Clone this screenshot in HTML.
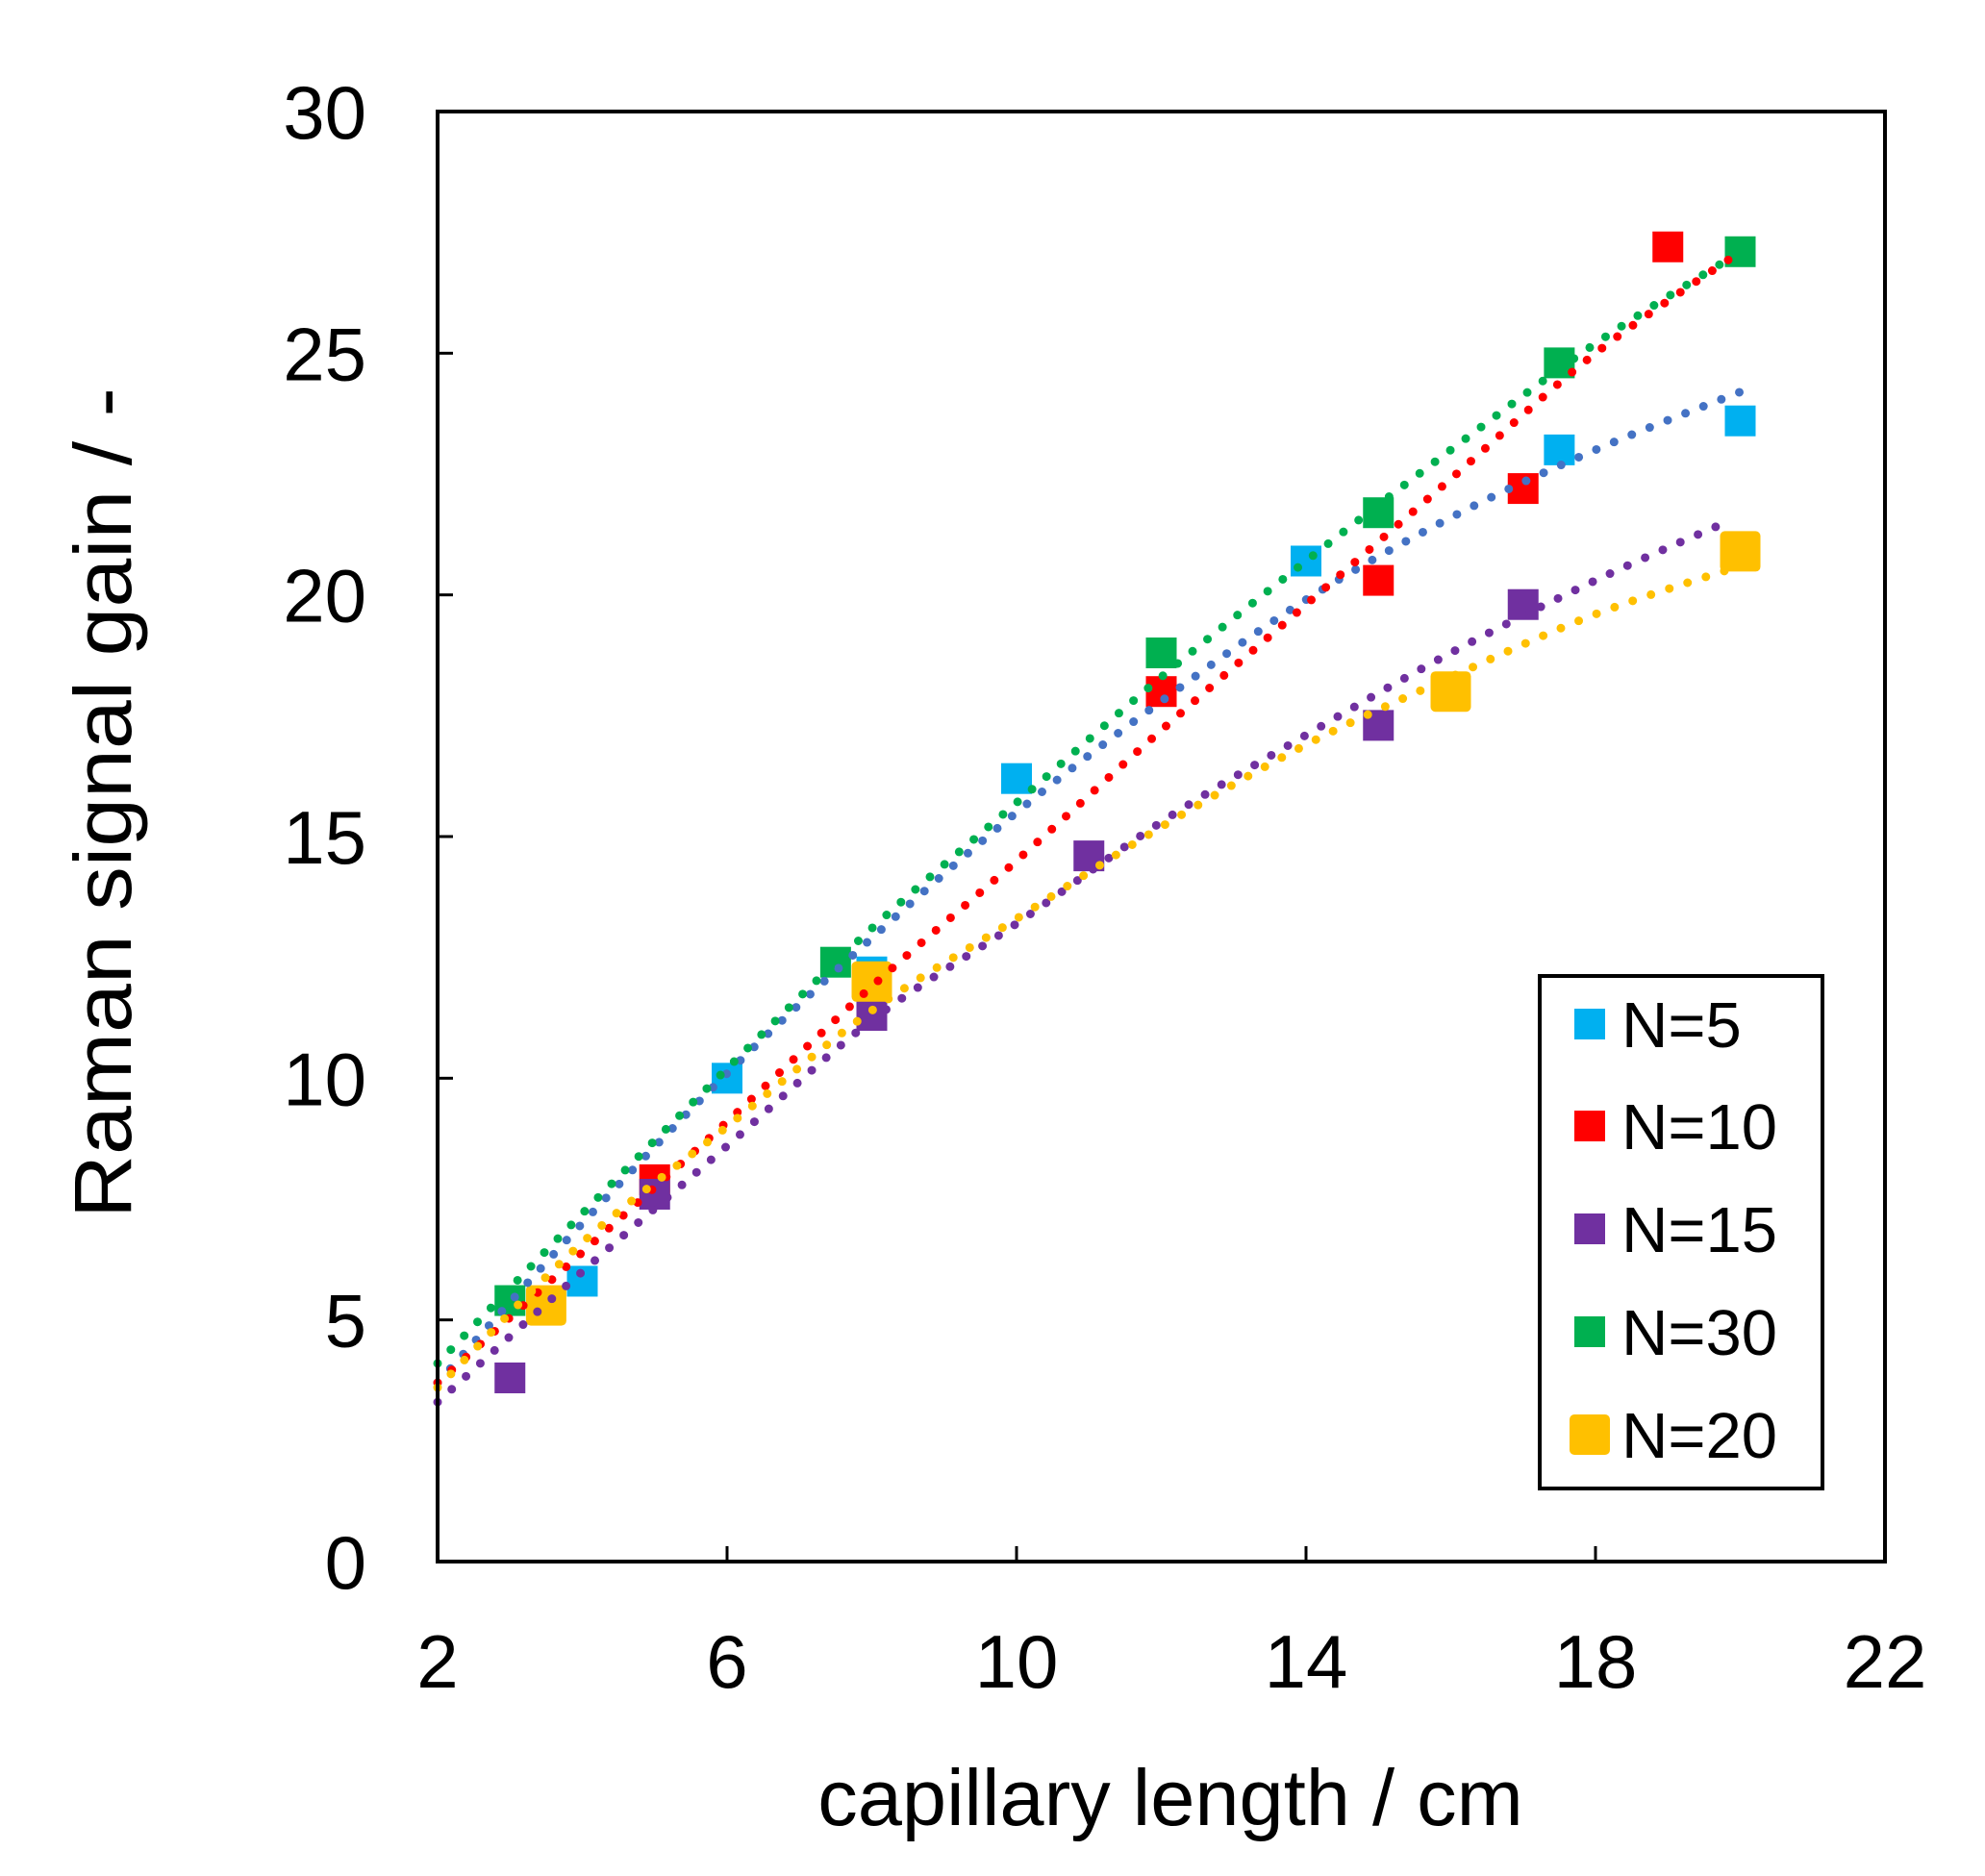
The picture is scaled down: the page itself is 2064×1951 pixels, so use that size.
<!DOCTYPE html>
<html><head><meta charset="utf-8"><style>
html,body{margin:0;padding:0;background:#fff}
svg{display:block;font-family:"Liberation Sans",Arial,sans-serif}
</style></head><body>
<svg id="chart" width="2064" height="1951" viewBox="0 0 2064 1951">
<rect x="0" y="0" width="2064" height="1951" fill="#fff"/>
<g id="marks"></g>
<rect x="455" y="116" width="1505" height="1508" fill="none" stroke="#000" stroke-width="4"/>
<g id="axes"></g>
<text x="1217" y="1898" font-size="83" text-anchor="middle">capillary length / cm</text>
<text transform="translate(136,835) rotate(-90)" font-size="84" text-anchor="middle" textLength="864" lengthAdjust="spacingAndGlyphs">Raman signal gain / -</text>
<g>
<rect x="1601" y="1015" width="294" height="533" fill="#fff" stroke="#000" stroke-width="4"/>
<g id="legend"></g>
</g>
</svg>
<script>
const xTicks=[2,6,10,14,18,22];
const yTicks=[0,5,10,15,20,25,30];
const seriesNames=["N=5","N=10","N=15","N=30","N=20"];
const seriesColors=["#00B0F0","#FF0000","#7030A0","#00B050","#FFC000"];
const trendColors=["#4472C4","#FF0000","#7030A0","#00B050","#FFC000"];
const n5X=[4,6,8,10,14,17.5,20];
const n5Y=[5.8,10,12.2,16.2,20.7,23,23.6];
const n10X=[5,12,15,17,19];
const n10Y=[7.9,18,20.3,22.2,27.2];
const n15X=[3,5,8,11,15,17];
const n15Y=[3.8,7.6,11.3,14.6,17.3,19.8];
const n30X=[3,7.5,12,15,17.5,20];
const n30Y=[5.4,12.4,18.8,21.7,24.8,27.1];
const n20X=[3.5,8,16,20];
const n20Y=[5.3,12,18,20.9];
const trendX=[2,4,6,8,10,12,14,16,18,20];
const trend15X=[2,4,6,8,10,12,14,16,18,19.8];
const trend5=[3.7,7.0,10.1,12.9,15.5,17.8,19.9,21.6,23.0,24.2];
const trend10=[3.7,6.4,9.1,11.9,14.5,17.2,19.8,22.4,25.0,27.1];
const trend15=[3.3,6.0,8.6,11.2,13.2,15.3,17.1,18.8,20.3,21.5];
const trend30=[4.1,7.2,10.2,13.1,15.7,18.3,20.7,23.0,25.2,27.1];
const trend20=[3.6,6.6,9.0,11.4,13.3,15.2,16.9,18.3,19.6,20.6];

const L=455,R=1960,T=116,B=1624;
const sx=v=>L+(v-2)/20*(R-L);
const sy=v=>B-v/30*(B-T);
const NS="http://www.w3.org/2000/svg";
function mk(tag,attrs,parent){const e=document.createElementNS(NS,tag);for(const k in attrs)e.setAttribute(k,attrs[k]);parent.appendChild(e);return e;}
const axes=document.getElementById('axes'),marks=document.getElementById('marks'),leg=document.getElementById('legend');

xTicks.forEach(t=>{
  if(t>2&&t<22){const l=mk('line',{x1:sx(t),x2:sx(t),y1:B,y2:B-16,stroke:'#000','stroke-width':3},axes);
  
  }
  const tx=mk('text',{x:sx(t),y:1755,'font-size':78,'text-anchor':'middle'},axes);tx.textContent=t;
  
  
});
yTicks.forEach(t=>{
  if(t>0&&t<30){const l=mk('line',{x1:L,x2:L+16,y1:sy(t),y2:sy(t),stroke:'#000','stroke-width':3},axes);
  
  }
  const tx=mk('text',{x:381,y:sy(t)+28,'font-size':78,'text-anchor':'end'},axes);tx.textContent=t;
  
  
});

const pts=[[n5X,n5Y],[n10X,n10Y],[n15X,n15Y],[n30X,n30Y],[n20X,n20Y]];
const trends=[[trendX,trend5],[trendX,trend10],[trend15X,trend15],[trendX,trend30],[trendX,trend20]];
pts.forEach((p,i)=>{
  const s=i===4?42:32;
  p[0].forEach((x,j)=>{
    const r=mk('rect',{x:sx(x)-s/2,y:sy(p[1][j])-s/2,width:s,height:s,rx:i===4?5:0,fill:seriesColors[i]},marks);
    
    
  });
});
trends.forEach((t,i)=>{
  const P=t[0].map((x,j)=>[sx(x),sy(t[1][j])]);
  let d='M'+P[0][0]+','+P[0][1];
  for(let j=0;j<P.length-1;j++){
    const p0=P[j-1]||P[j],p1=P[j],p2=P[j+1],p3=P[j+2]||P[j+1];
    d+=' C'+(p1[0]+(p2[0]-p0[0])/6)+','+(p1[1]+(p2[1]-p0[1])/6)+' '+(p2[0]-(p3[0]-p1[0])/6)+','+(p2[1]-(p3[1]-p1[1])/6)+' '+p2[0]+','+p2[1];
  }
  const pa=mk('path',{d:d,fill:'none',stroke:trendColors[i],'stroke-width':9,'stroke-linecap':'round','stroke-dasharray':'0 20'},marks);
  
  
});

const legY=[1065,1171,1278,1385,1492];
seriesNames.forEach((n,i)=>{
  const s=i===4?42:32;
  const r=mk('rect',{x:1653-s/2,y:legY[i]-s/2,width:s,height:s,rx:i===4?5:0,fill:seriesColors[i]},leg);
  
  
  const tx=mk('text',{x:1686,y:legY[i]+24,'font-size':67},leg);tx.textContent=n;
  
  
});
</script>
</body></html>
